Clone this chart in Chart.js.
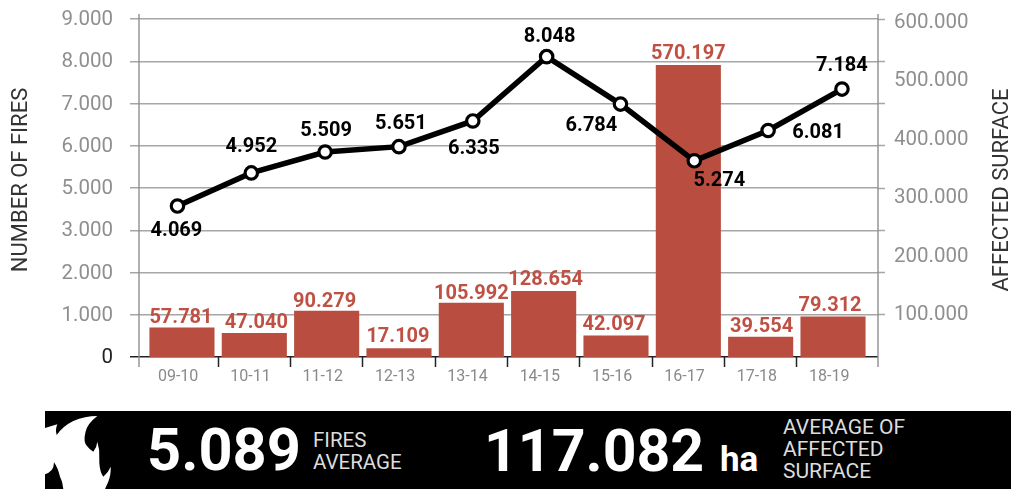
<!DOCTYPE html>
<html>
<head>
<meta charset="utf-8">
<script src="https://cdn.jsdelivr.net/npm/chart.js@4"></script>
<style>
html,body{margin:0;padding:0;background:#fff;overflow:hidden}
#wrap{position:relative;width:1011px;height:489px}
canvas{position:absolute;left:0;top:0}
svg{position:absolute;left:0;top:0}
svg text{font-family:Roboto,sans-serif}
</style>
</head>
<body>
<div id="wrap">
<canvas id="c" width="1011" height="411" style="width:1011px;height:411px"></canvas>
<svg width="1011" height="489" viewBox="0 0 1011 489">
  <rect x="45" y="411" width="966" height="78" fill="#000"/>
  <path fill="#fff" d="M45 428 L57.3 424.3 Q55 430 56.7 435 Q63 426 73.3 421 Q85 416 97.3 416 Q87 424 85.5 432 Q83 442 87 446 Q90 450 93.3 451.7 Q97 447 97.3 441.7 Q100 450 99.3 458.3 Q99 468 101.7 474 L103.3 476.7 Q108 473 110.7 466.7 Q111 475 108.3 481.7 L105 489 L63.3 489 Q63 482 60 476.7 Q58 468 54 462.3 Q54 467 51.7 470 Q49 473 45 474.3 Z"/>
  <text x="147" y="470" font-size="59.5" font-weight="700" fill="#fff">5.089</text>
  <text x="313" y="447" font-size="20.5" fill="#ddd">FIRES</text>
  <text x="313" y="469" font-size="20.5" fill="#ddd">AVERAGE</text>
  <text x="484" y="471" font-size="59" font-weight="700" fill="#fff">117.082</text>
  <text x="720" y="471" font-size="35" font-weight="700" fill="#fff">ha</text>
  <text x="783" y="434" font-size="21" fill="#ddd">AVERAGE OF</text>
  <text x="783" y="456" font-size="21" fill="#ddd">AFFECTED</text>
  <text x="783" y="478" font-size="21" fill="#ddd">SURFACE</text>
</svg>
</div>
<script>
const categories = ["09-10","10-11","11-12","12-13","13-14","14-15","15-16","16-17","17-18","18-19"];
const fires = [4069,4952,5509,5651,6335,8048,6784,5274,6081,7184];
const surface = [57781,47040,90279,17109,105992,128654,42097,570197,39554,79312];
// The reference's left axis prints these nine labels (4.000 is absent).
const leftTickLabels = ["0","1.000","2.000","3.000","5.000","6.000","7.000","8.000","9.000"];
const rightTickValues = [100000,200000,300000,400000,500000,600000];
const leftTitle = "NUMBER OF FIRES";
const rightTitle = "AFFECTED SURFACE";
// label placement relative to each point (px)
const fireLabelOffsets = [[-1,25],[0,-26],[1,-21],[2,-23],[1,28],[3,-20],[-29,22],[25,20],[50,2],[0,-23]];
const surfaceLabelOffsets = [[-1,-9],[2,-10],[-2,-9],[-1,-11],[0,-9],[2,-11],[-2,-10],[0,-11],[1,-10],[-3,-10]];

const dotted = v => String(v).replace(/\B(?=(\d{3})+$)/g,".");
const GREY = "#8f8f8f", GRID = "#a6a6a6", RED = "#b84d40", REDTXT = "#bf5044";
const noPad = s => { s.paddingTop = 0; s.paddingBottom = 0; s.paddingLeft = 0; s.paddingRight = 0; };

const extras = {
  id:"extras",
  beforeDatasetsDraw(ch){
    const c = ch.ctx, a = ch.chartArea;
    c.save();
    c.strokeStyle = GREY; c.lineWidth = 1.4;
    [a.left,a.right].forEach(x=>{c.beginPath();c.moveTo(x,a.top-5);c.lineTo(x,a.bottom+10);c.stroke();});
    c.restore();
  },
  afterDatasetsDraw(ch){
    const c = ch.ctx;
    c.save();
    c.textAlign="center"; c.textBaseline="middle";
    c.font="700 20px Roboto";
    ch.getDatasetMeta(1).data.forEach((el,i)=>{
      c.fillStyle=REDTXT;
      c.fillText(dotted(surface[i]),el.x+surfaceLabelOffsets[i][0],el.y+surfaceLabelOffsets[i][1]);
    });
    ch.getDatasetMeta(0).data.forEach((el,i)=>{
      c.fillStyle="#000";
      c.fillText(dotted(fires[i]),el.x+fireLabelOffsets[i][0],el.y+fireLabelOffsets[i][1]);
    });
    c.font="22px Roboto"; c.fillStyle="#333";
    [[21,180,leftTitle],[1002,190,rightTitle]].forEach(([x,y,t])=>{
      c.save();c.translate(x,y);c.rotate(-Math.PI/2);c.fillText(t,0,0);c.restore();
    });
    c.restore();
  }
};

new Chart(document.getElementById("c"),{
  data:{
    labels:categories,
    datasets:[
      {type:"line",order:0,label:"Fires",data:fires.map((v,i)=>({x:i,y:v})),xAxisID:"xLine",yAxisID:"yLine",
       borderColor:"#000",borderWidth:5.5,backgroundColor:"#fff",pointBackgroundColor:"#fff",pointBorderColor:"#000",
       pointBorderWidth:3.2,pointRadius:6.2,tension:0},
      {type:"bar",order:1,label:"Surface",data:surface.map((v,i)=>({x:i,y:v})),xAxisID:"x",yAxisID:"yBar",
       backgroundColor:RED,grouped:false,barPercentage:0.9,categoryPercentage:1}
    ]
  },
  plugins:[extras],
  options:{
    responsive:false,animation:false,
    layout:{padding:{top:19,left:0,right:0,bottom:0}},
    plugins:{legend:{display:false},tooltip:{enabled:false}},
    scales:{
      x:{type:"linear",position:"bottom",min:-0.594,max:9.622,offset:false,
         afterBuildTicks(s){s.ticks=categories.map((_,i)=>({value:i+0.5}));},
         afterFit(s){s.height=54;noPad(s);},
         grid:{offset:false,drawOnChartArea:false,drawTicks:true,tickLength:10,tickWidth:1.5,
               tickColor:ctx=>ctx.index===9?"rgba(0,0,0,0)":"#222"},
         border:{display:false},
         ticks:{autoSkip:false,maxRotation:0,minRotation:0,labelOffset:-40,padding:0,color:"#8a8a8a",
                font:{family:"Roboto",size:16},callback:v=>categories[v-0.5]}},
      xLine:{type:"linear",display:false,min:-0.521,max:9.488},
      y:{type:"linear",position:"left",min:0,max:8,
         afterBuildTicks(s){s.ticks=leftTickLabels.map((_,i)=>({value:i}));},
         afterFit(s){s.width=139;noPad(s);},
         grid:{color:ctx=>ctx.index===0?"#222":GRID,lineWidth:1.5,tickLength:9,
               tickColor:ctx=>ctx.index===0?"#222":GRID},
         border:{display:false},
         ticks:{autoSkip:false,padding:17,labelOffset:1,color:ctx=>ctx.index===0?"#222":GREY,
                font:{family:"Roboto",size:20.5},callback:v=>leftTickLabels[v]}},
      yLine:{type:"linear",display:false,min:50,max:9050},
      yBar:{type:"linear",display:false,min:0,max:660000},
      yGridR:{type:"linear",position:"right",min:0,max:8,
         afterBuildTicks(s){s.ticks=leftTickLabels.slice(1).map((_,i)=>({value:i+1}));},
         afterFit(s){s.width=0;noPad(s);},
         grid:{drawOnChartArea:false,tickLength:7,tickWidth:1.5,tickColor:GRID},
         border:{display:false},ticks:{display:false}},
      yR:{type:"linear",position:"right",min:28000,max:606800,
         afterBuildTicks(s){s.ticks=rightTickValues.map(v=>({value:v}));},
         afterFit(s){s.width=133;noPad(s);},
         grid:{display:false},border:{display:false},
         ticks:{autoSkip:false,padding:8,color:GREY,font:{family:"Roboto",size:20.5},callback:v=>dotted(v)}}
    }
  }
});
</script>
</body>
</html>
